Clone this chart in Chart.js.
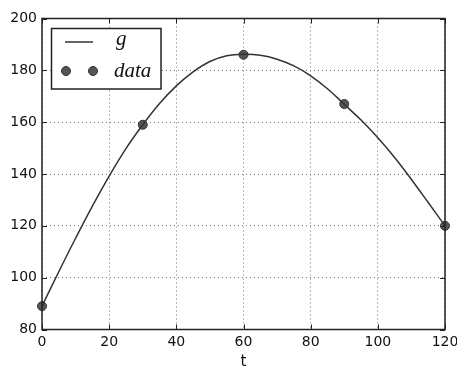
<!DOCTYPE html>
<html>
<head>
<meta charset="utf-8">
<script src="https://cdn.jsdelivr.net/npm/chart.js@4"></script>
<style>
  html, body { margin: 0; padding: 0; background: #fff; }
  #wrap { width: 457px; height: 368px; }
</style>
</head>
<body>
<div id="wrap"><canvas id="chart"></canvas></div>
<script>
// curve g
const gT = [0, 5, 10, 15, 20, 25, 30, 35, 40, 45, 50, 55, 60, 65, 70, 75, 80, 85, 90, 95, 100, 105, 110, 115, 120];
const gVal = [89, 102.3, 115.2, 127.6, 139.2, 149.8, 159, 167.2, 174, 179.4, 183.4, 185.6, 186.2, 185.8, 184.3, 181.7, 177.9, 172.9, 166.9, 160.8, 154, 146.4, 137.9, 129, 120];
// measured points
const dataT = [0, 30, 60, 90, 120];
const dataVal = [89, 159, 186, 167, 120];

const xTicks = [0, 20, 40, 60, 80, 100, 120];
const yTicks = [80, 100, 120, 140, 160, 180, 200];

const frame = {
    id: 'frame',
    afterDraw(chart) {
        const ctx = chart.ctx;
        const a = chart.chartArea;
        const xs = chart.scales.x, ys = chart.scales.y;
        ctx.save();
        // little inside ticks
        ctx.strokeStyle = '#222';
        ctx.lineWidth = 1;
        ctx.beginPath();
        xTicks.forEach(v => {
            const px = Math.round(xs.getPixelForValue(v)) + 0.5;
            ctx.moveTo(px, a.bottom); ctx.lineTo(px, a.bottom - 5);
            ctx.moveTo(px, a.top); ctx.lineTo(px, a.top + 5);
        });
        yTicks.forEach(v => {
            const py = Math.round(ys.getPixelForValue(v)) + 0.5;
            ctx.moveTo(a.left, py); ctx.lineTo(a.left + 5, py);
            ctx.moveTo(a.right, py); ctx.lineTo(a.right - 5, py);
        });
        ctx.stroke();
        // box
        ctx.lineWidth = 1.5;
        ctx.strokeStyle = '#222';
        ctx.strokeRect(a.left, a.top, a.right - a.left, a.bottom - a.top);

        // legend
        ctx.fillStyle = '#fff';
        ctx.fillRect(51.5, 28.5, 109.5, 60.5);
        ctx.lineWidth = 1.5;
        ctx.strokeStyle = '#222';
        ctx.strokeRect(51.5, 28.5, 109.5, 60.5);
        ctx.strokeStyle = '#333';
        ctx.beginPath();
        ctx.moveTo(65, 42); ctx.lineTo(93, 42);
        ctx.stroke();
        [66, 93].forEach(cx => {
            ctx.beginPath();
            ctx.arc(cx, 71, 4.5, 0, Math.PI * 2);
            ctx.fillStyle = '#555';
            ctx.fill();
            ctx.lineWidth = 1;
            ctx.strokeStyle = '#333';
            ctx.stroke();
        });
        ctx.fillStyle = '#111';
        ctx.font = 'italic 21px "Liberation Serif"';
        ctx.textBaseline = 'alphabetic';
        ctx.fillText('g', 116, 45);
        ctx.fillText('data', 114, 77);
        ctx.restore();
    }
};

new Chart(document.getElementById('chart'), {
    type: 'line',
    data: {
        datasets: [{
            label: 'g',
            data: gT.map((t, i) => ({ x: t, y: gVal[i] })),
            borderColor: '#333',
            borderWidth: 1.5,
            pointRadius: 0,
            tension: 0.4,
            fill: false
        }, {
            label: 'data',
            data: dataT.map((t, i) => ({ x: t, y: dataVal[i] })),
            showLine: false,
            pointRadius: 4.5,
            pointBackgroundColor: '#555',
            pointBorderColor: '#333',
            pointBorderWidth: 1
        }]
    },
    plugins: [frame],
    options: {
        responsive: true,
        maintainAspectRatio: false,
        animation: false,
        clip: false,
        layout: { padding: { top: 18.5, right: 12, left: 0, bottom: 0 } },
        plugins: {
            legend: { display: false },
            tooltip: { enabled: false }
        },
        scales: {
            x: {
                type: 'linear',
                min: 0,
                max: 120,
                afterBuildTicks: s => { s.ticks = xTicks.map(v => ({ value: v })); },
                afterFit: s => { s.height = 38.5; s.paddingLeft = 0; s.paddingRight = 0; },
                grid: { color: '#777', lineWidth: 1, drawTicks: false },
                border: { display: false, dash: [1, 3] },
                ticks: {
                    color: '#111',
                    padding: 4,
                    font: { family: '"DejaVu Sans"', size: 14 }
                },
                title: {
                    display: true,
                    text: 't',
                    color: '#111',
                    padding: { top: 0, bottom: 0 },
                    font: { family: '"DejaVu Sans"', size: 15, lineHeight: 0.8 }
                }
            },
            y: {
                min: 80,
                max: 200,
                afterBuildTicks: s => { s.ticks = yTicks.map(v => ({ value: v })); },
                afterFit: s => { s.width = 42; s.paddingTop = 0; s.paddingBottom = 0; },
                grid: { color: '#777', lineWidth: 1, drawTicks: false },
                border: { display: false, dash: [1, 3] },
                ticks: {
                    color: '#111',
                    padding: 5,
                    font: { family: '"DejaVu Sans"', size: 14 }
                }
            }
        }
    }
});
</script>
</body>
</html>
